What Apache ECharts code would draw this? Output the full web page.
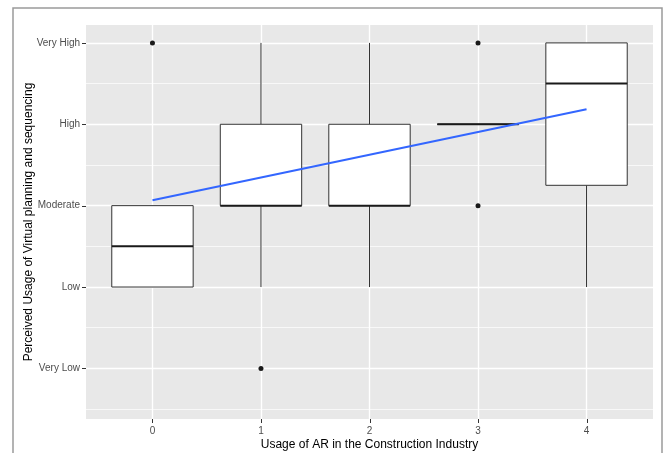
<!DOCTYPE html>
<html>
<head>
<meta charset="utf-8">
<script src="https://cdn.jsdelivr.net/npm/echarts@6/dist/echarts.min.js"></script>
<style>
html,body{margin:0;padding:0;background:#fff;}
#chart{width:663px;height:453px;}
</style>
</head>
<body>
<div id="chart"></div>
<script>
// ---- data ----
const xCategories = [0, 1, 2, 3, 4];
const yLevelLabels = ['Very Low', 'Low', 'Moderate', 'High', 'Very High']; // values 1..5
const yLevelValues = [1, 2, 3, 4, 5];
const yMinorValues = [0.5, 1.5, 2.5, 3.5, 4.5];
const boxLower  = [2, 2, 2, 4, 2];
const boxQ1     = [2, 3, 3, 4, 3.25];
const boxMedian = [2.5, 3, 3, 4, 4.5];
const boxQ3     = [3, 4, 4, 4, 5];
const boxUpper  = [3, 5, 5, 4, 5];
const outlierX  = [0, 1, 3, 3];
const outlierY  = [5, 1, 5, 3];
const trendX    = [0, 4];
const trendY    = [3.066, 4.184];

const xTitle = 'Usage of AR in the Construction Industry';
const yTitle = 'Perceived Usage of Virtual planning and sequencing';

// ---- build ----
const X_MIN = -0.6125, X_MAX = 4.6125, Y_MIN = 0.378, Y_MAX = 5.22;
const boxData = xCategories.map((x, i) => [x, boxLower[i], boxQ1[i], boxMedian[i], boxQ3[i], boxUpper[i]]);
const outlierData = outlierX.map((x, i) => [x, outlierY[i]]);
const trendData = trendX.map((x, i) => [x, trendY[i]]);

const gridLines = [];
yMinorValues.forEach(v => gridLines.push({ yAxis: v, lineStyle: { color: '#ffffff', width: 0.7, type: 'solid' } }));
yLevelValues.forEach(v => gridLines.push({ yAxis: v, lineStyle: { color: '#ffffff', width: 1.4, type: 'solid' } }));
xCategories.forEach(v => gridLines.push({ xAxis: v, lineStyle: { color: '#ffffff', width: 1.4, type: 'solid' } }));

const FONT = '"Liberation Sans", Arial, sans-serif';
const HALF = 0.375;

const chart = echarts.init(document.getElementById('chart'), null, { renderer: 'canvas' });
chart.setOption({
  animation: false,
  backgroundColor: '#ffffff',
  textStyle: { fontFamily: FONT },
  grid: { left: 86, right: 10, top: 25, bottom: 34, show: true, backgroundColor: '#e8e8e8', borderWidth: 0,
          containLabel: false, outerBoundsMode: 'none' },
  xAxis: {
    type: 'value', min: X_MIN, max: X_MAX,
    axisLine: { show: false },
    splitLine: { show: false },
    axisTick: { show: false },
    axisLabel: { color: '#4d4d4d', fontSize: 10, fontFamily: FONT, margin: 7, customValues: xCategories, formatter: v => String(v) },
    name: xTitle, nameLocation: 'middle', nameGap: 20, nameMoveOverlap: false,
    nameTextStyle: { color: '#000000', fontSize: 12, fontFamily: FONT }
  },
  yAxis: {
    type: 'value', min: Y_MIN, max: Y_MAX,
    axisLine: { show: false },
    splitLine: { show: false },
    axisTick: { show: false },
    axisLabel: { color: '#4d4d4d', fontSize: 10, fontFamily: FONT, margin: 6, customValues: yLevelValues,
      formatter: v => yLevelLabels[yLevelValues.indexOf(Math.round(v))] || '' },
    name: yTitle, nameLocation: 'middle', nameGap: 51, nameMoveOverlap: false,
    nameTextStyle: { color: '#000000', fontSize: 12, fontFamily: FONT }
  },
  graphic: [{
    id: 'frame', type: 'rect', shape: { x: 13, y: 8, width: 649, height: 470 },
    style: { fill: null, stroke: '#9a9a9a', lineWidth: 1.5 }, silent: true, z: 100
  }],
  series: [
    {
      type: 'line', data: [], z: 1, silent: true,
      markLine: { z: 1, silent: true, symbol: ['none', 'none'], label: { show: false }, animation: false, data: gridLines }
    },
    {
      type: 'custom', z: 10, silent: true,
      data: boxData,
      encode: { x: 0, y: [1, 2, 3, 4, 5] },
      renderItem: function (params, api) {
        const x = api.value(0), lo = api.value(1), q1 = api.value(2), md = api.value(3), q3 = api.value(4), hi = api.value(5);
        const cx = api.coord([x, md])[0];
        const left = api.coord([x - HALF, q3]);
        const right = api.coord([x + HALF, q1]);
        const yLo = api.coord([x, lo])[1], yHi = api.coord([x, hi])[1];
        const yQ1 = right[1], yQ3 = left[1], yMd = api.coord([x, md])[1];
        const stroke = '#333333';
        const children = [];
        if (yLo > yQ1 + 0.5) children.push({ type: 'line', shape: { x1: cx, y1: yQ1, x2: cx, y2: yLo }, style: { stroke, lineWidth: 1 } });
        if (yHi < yQ3 - 0.5) children.push({ type: 'line', shape: { x1: cx, y1: yQ3, x2: cx, y2: yHi }, style: { stroke, lineWidth: 1 } });
        children.push({ type: 'rect', shape: { x: left[0], y: yQ3, width: right[0] - left[0], height: yQ1 - yQ3 },
          style: { fill: '#ffffff', stroke, lineWidth: 1 } });
        children.push({ type: 'line', shape: { x1: left[0], y1: yMd, x2: right[0], y2: yMd }, style: { stroke: '#1a1a1a', lineWidth: 2 } });
        return { type: 'group', children };
      }
    },
    {
      type: 'scatter', z: 11, silent: true, data: outlierData,
      symbol: 'circle', symbolSize: 5, itemStyle: { color: '#1a1a1a', opacity: 1 }
    },
    {
      type: 'line', z: 12, silent: true, data: trendData, symbol: 'none',
      lineStyle: { color: '#3366ff', width: 2 }
    }
  ]
});

// axis ticks placed through the chart's own scales
const ticks = [];
const yBottom = chart.convertToPixel({ gridIndex: 0 }, [X_MIN, Y_MIN])[1];
const xLeft = chart.convertToPixel({ gridIndex: 0 }, [X_MIN, Y_MIN])[0];
xCategories.forEach((v, i) => {
  const px = Math.round(chart.convertToPixel({ gridIndex: 0 }, [v, Y_MIN])[0]) + 0.5;
  ticks.push({ id: 'xt' + i, type: 'line', shape: { x1: px, y1: yBottom, x2: px, y2: yBottom + 4 },
    style: { stroke: '#333333', lineWidth: 1 }, silent: true, z: 50 });
});
yLevelValues.forEach((v, i) => {
  const py = Math.round(chart.convertToPixel({ gridIndex: 0 }, [X_MIN, v])[1]) + 0.5;
  ticks.push({ id: 'yt' + i, type: 'line', shape: { x1: xLeft - 4, y1: py, x2: xLeft, y2: py },
    style: { stroke: '#333333', lineWidth: 1 }, silent: true, z: 50 });
});
chart.setOption({ graphic: ticks });
</script>
</body>
</html>
